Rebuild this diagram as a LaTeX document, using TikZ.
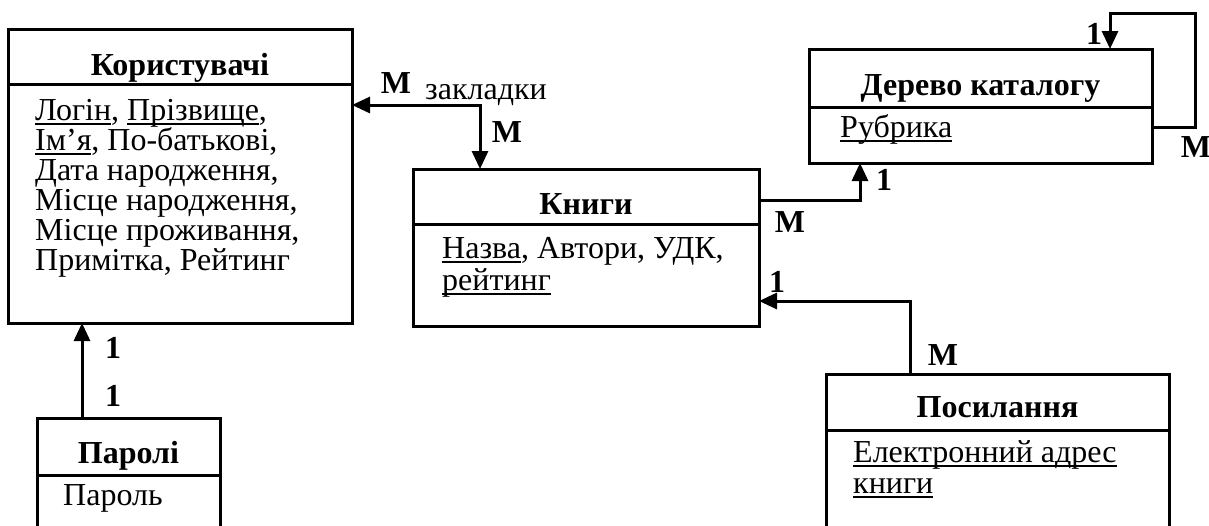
\documentclass[tikz,border=0pt]{standalone}
\usepackage{fontspec}
\setmainfont{Liberation Serif}
\usetikzlibrary{arrows.meta}
\newcommand\fs{\fontsize{32}{30}\selectfont}
\newsavebox\ulbox
\newcommand\ul[1]{\leavevmode\sbox\ulbox{#1}\rlap{\raisebox{-4.5pt}{\rule{\wd\ulbox}{1.5pt}}}\usebox\ulbox}
\begin{document}
\begin{tikzpicture}[x=1pt,y=-1pt,
  entity/.style={draw, line width=3pt, inner sep=0pt, outer sep=0pt},
  hdr/.style={line width=3pt},
  title/.style={anchor=base, font=\fs\bfseries, inner sep=0pt},
  attr/.style={anchor=base west, font=\fs, inner sep=0pt},
  card/.style={font=\fs\bfseries, inner sep=0pt},
  link/.style={line width=3pt},
  tip/.style={-{Triangle[length=18pt,width=16pt]}},
  tips/.style={{Triangle[length=18pt,width=16pt]}-{Triangle[length=18pt,width=16pt]}}]
\useasboundingbox (0,0) rectangle (1209,525);
\clip (0,0) rectangle (1209,525);

% entities
\node[entity, minimum width=344pt, minimum height=294pt] (user) at (180,176) {};
\draw[hdr] ([yshift=-55pt]user.north west) -- ([yshift=-55pt]user.north east);
\node[title] (userT) at (180,75) {Користувачі};
\node[attr] (u1) at (35,120) {\ul{Логін}, \ul{Прізвище},};
\node[attr] (u2) at (35,150) {\ul{Ім’я}, По-батькові,};
\node[attr] (u3) at (35,180) {Дата народження,};
\node[attr] (u4) at (35,210) {Місце народження,};
\node[attr] (u5) at (35,240) {Місце проживання,};
\node[attr] (u6) at (35,270) {Примітка, Рейтинг};

\node[entity, minimum width=346pt, minimum height=157pt] (books) at (586,247.5) {};
\draw[hdr] ([yshift=-55pt]books.north west) -- ([yshift=-55pt]books.north east);
\node[title] (booksT) at (586,214) {Книги};
\node[attr] (b1) at (442,258) {\ul{Назва}, Автори, УДК,};
\node[attr] (b2) at (442,290) {\ul{рейтинг}};

\node[entity, minimum width=343pt, minimum height=114pt] (tree) at (980.5,106) {};
\draw[hdr] ([yshift=-58pt]tree.north west) -- ([yshift=-58pt]tree.north east);
\node[title] (treeT) at (980.5,95) {Дерево каталогу};
\node[attr] (t1) at (840,137) {\ul{Рубрика}};

\node[entity, minimum width=343pt, minimum height=186pt] (links) at (997.5,467) {};
\draw[hdr] ([yshift=-56pt]links.north west) -- ([yshift=-56pt]links.north east);
\node[title] (linksT) at (997.5,417) {Посилання};
\node[attr] (l1) at (853,462) {\ul{Електронний адрес}};
\node[attr] (l2) at (853,493) {\ul{книги}};

\node[entity, minimum width=183pt, minimum height=142pt] (pass) at (128.5,489) {};
\draw[hdr] ([yshift=-57pt]pass.north west) -- ([yshift=-57pt]pass.north east);
\node[title] (passT) at (128.5,463) {Паролі};
\node[attr] (p1) at (63,505) {Пароль};

% connectors
\coordinate (bm) at (480,105);
\draw[link, tips] (user.east |- bm) -- (bm) -- (bm |- books.north);
\node[card] (mA) at (396,83) {М};
\node[attr] (zak) at (425,99) {закладки};
\node[card] (mB) at (507,132) {М};

\coordinate (bt) at (860,200);
\draw[link, tip] (books.east |- bt) -- (bt) -- (bt |- tree.south);
\node[card] (oneT) at (884,180) {1};
\node[card] (mC) at (790,222) {М};

\coordinate (la) at (1195,127);
\coordinate (lb) at (1195,13);
\coordinate (lc) at (1110,13);
\draw[link, tip] (tree.east |- la) -- (la) -- (lb) -- (lc) -- (lc |- tree.north);
\node[card] (oneS) at (1094,34) {1};
\node[card] (mS) at (1196,147) {М};

\coordinate (lk) at (910,301);
\draw[link, tip] (lk |- links.north) -- (lk) -- (books.east |- lk);
\node[card] (oneL) at (777,282) {1};
\node[card] (mL) at (943,355) {М};

\coordinate (pu) at (82,400);
\draw[link, tip] (pu |- pass.north) -- (pu |- user.south);
\node[card] (oneP1) at (113,348) {1};
\node[card] (oneP2) at (113,396) {1};
\end{tikzpicture}
\end{document}
